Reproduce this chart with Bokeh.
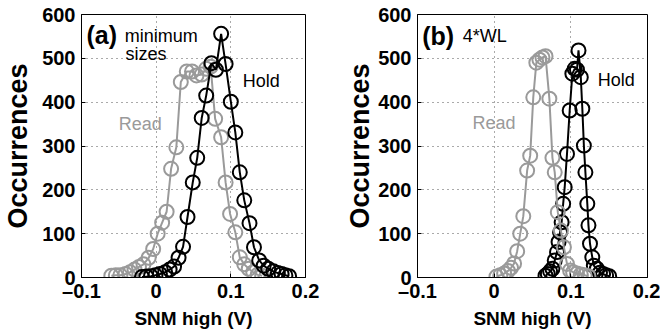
from bokeh.plotting import figure
from bokeh.layouts import row
from bokeh.models import Label, FixedTicker, Range1d
from bokeh.embed import file_html
from bokeh.resources import INLINE

# ---------------- data ----------------
x_ticks = [-0.1, 0, 0.1, 0.2]
x_tick_labels = ["\u20130.1", "0", "0.1", "0.2"]
y_ticks = [0, 100, 200, 300, 400, 500, 600]

# panel (a): minimum sizes
read_a_x = [-0.060, -0.054, -0.048, -0.041, -0.035, -0.029, -0.023, -0.017, -0.010, -0.004,
            0.002, 0.008, 0.014, 0.020, 0.027, 0.033, 0.041, 0.048, 0.054, 0.061, 0.067,
            0.073, 0.079, 0.087, 0.093, 0.099, 0.106, 0.112, 0.118, 0.124, 0.130, 0.136, 0.142]
read_a_y = [4, 5, 5, 8, 12, 18, 24, 30, 45, 65, 100, 125, 150, 248, 297, 446, 470, 470, 461,
            463, 476, 481, 362, 320, 217, 145, 103, 46, 30, 20, 12, 6, 4]

hold_a_x = [-0.019, -0.013, -0.007, -0.001, 0.005, 0.012, 0.018, 0.024, 0.030, 0.036, 0.042,
            0.049, 0.055, 0.061, 0.067, 0.074, 0.080, 0.087, 0.093, 0.100, 0.106, 0.112, 0.118,
            0.125, 0.131, 0.138, 0.144, 0.150, 0.157, 0.163, 0.168, 0.173, 0.178]
hold_a_y = [1, 2, 3, 5, 8, 12, 18, 25, 45, 70, 138, 217, 273, 364, 415, 489, 474, 556, 487,
            401, 331, 240, 176, 124, 69, 39, 27, 20, 14, 10, 8, 5, 3]

# panel (b): 4*WL
read_b_x = [0.003, 0.008, 0.013, 0.018, 0.022, 0.026, 0.030, 0.034, 0.038, 0.043, 0.047, 0.051,
            0.055, 0.059, 0.063, 0.067, 0.072, 0.076, 0.079, 0.083, 0.087, 0.091, 0.095, 0.099,
            0.103, 0.108, 0.113, 0.118, 0.123]
read_b_y = [2, 5, 9, 15, 22, 32, 60, 100, 140, 244, 278, 411, 490, 497, 502, 505, 408, 273,
            240, 149, 107, 69, 31, 16, 12, 9, 7, 5, 3]

hold_b_x = [0.067, 0.070, 0.073, 0.076, 0.079, 0.082, 0.084, 0.086, 0.088, 0.090, 0.092, 0.095,
            0.0985, 0.102, 0.105, 0.108, 0.110, 0.113, 0.115, 0.117, 0.119, 0.1215, 0.123,
            0.125, 0.128, 0.130, 0.134, 0.138, 0.142, 0.146, 0.150]
hold_b_y = [4, 8, 14, 20, 39, 58, 81, 103, 126, 168, 206, 282, 381, 465, 476, 474, 518, 457,
            385, 301, 240, 168, 119, 77, 46, 27, 20, 11, 8, 5, 3]

GRAY = "#9a9a9a"
FONT = "Liberation Sans"


def make_fig(left, right, ylabel_standoff):
    p = figure(width=330, height=335, x_range=Range1d(-0.1, 0.2), y_range=Range1d(0, 600),
               output_backend="svg", toolbar_location=None,
               min_border_left=left, min_border_right=right,
               min_border_top=14, min_border_bottom=58,
               x_axis_label="SNM high (V)", y_axis_label="Occurrences")
    p.background_fill_color = "white"
    p.border_fill_color = "white"
    p.outline_line_color = "black"
    p.outline_line_width = 1
    p.outline_line_alpha = 1

    p.xaxis.ticker = FixedTicker(ticks=x_ticks)
    p.xaxis.major_label_overrides = {t: s for t, s in zip(x_ticks, x_tick_labels)}
    p.yaxis.ticker = FixedTicker(ticks=y_ticks)

    for ax in (p.xaxis[0], p.yaxis[0]):
        ax.major_tick_in = 4
        ax.major_tick_out = 0
        ax.minor_tick_line_color = None
        ax.axis_line_color = "black"
        ax.major_tick_line_color = "black"
        ax.major_label_text_font = FONT
        ax.major_label_text_font_style = "bold"
        ax.major_label_text_font_size = "20px"
        ax.major_label_text_color = "black"
        ax.axis_label_text_font = FONT
        ax.axis_label_text_font_style = "bold"
        ax.axis_label_text_color = "black"
    p.xaxis.axis_label_text_font_size = "19px"
    p.yaxis.axis_label_text_font_size = "27px"
    p.xaxis.major_label_standoff = 2
    p.xaxis.axis_label_standoff = 3
    p.yaxis.major_label_standoff = 6
    p.yaxis.axis_label_standoff = ylabel_standoff

    p.xgrid.ticker = FixedTicker(ticks=[0, 0.1])
    p.ygrid.ticker = FixedTicker(ticks=[100, 200, 300, 400, 500])
    for g in (p.xgrid[0], p.ygrid[0]):
        g.grid_line_color = "#555555"
        g.grid_line_dash = "1 4"
        g.grid_line_width = 1
    return p


def add_series(p, xs, ys, color):
    p.line(xs, ys, line_color=color, line_width=2)
    p.scatter(xs, ys, marker="circle", size=14, fill_color=None, line_color=color, line_width=2)


def add_text(p, x, y, txt, color="black", size="18px", style="normal"):
    p.add_layout(Label(x=x, y=y, text=txt, text_color=color, text_font=FONT,
                       text_font_size=size, text_font_style=style,
                       text_baseline="alphabetic", text_align="left"))


pa = make_fig(77, 25, 6)
add_series(pa, read_a_x, read_a_y, GRAY)
add_series(pa, hold_a_x, hold_a_y, "black")
add_text(pa, -0.0934, 554, "(a)", size="25px", style="bold")
add_text(pa, -0.042, 552, "minimum")
add_text(pa, -0.041, 511, "sizes")
add_text(pa, 0.1158, 449, "Hold")
add_text(pa, -0.050, 350, "Read", color=GRAY)

pb = make_fig(87, 13, 0)
add_series(pb, hold_b_x, hold_b_y, "black")
add_series(pb, read_b_x, read_b_y, GRAY)
add_text(pb, -0.0939, 552, "(b)", size="25px", style="bold")
add_text(pb, -0.041, 550, "4*WL")
add_text(pb, 0.1351, 451, "Hold")
add_text(pb, -0.0284, 352, "Read", color=GRAY)

layout = row(pa, pb)
open("out.html", "w").write(file_html(layout, INLINE))
